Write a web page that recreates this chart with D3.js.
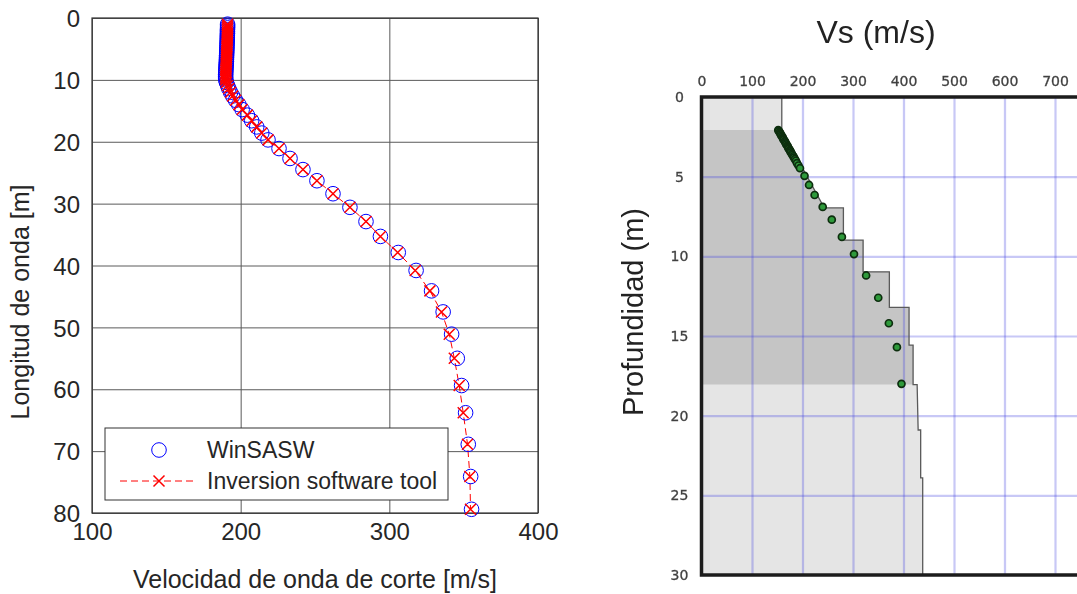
<!DOCTYPE html>
<html><head><meta charset="utf-8">
<script src="https://cdn.jsdelivr.net/npm/d3@7"></script>
<style>body{margin:0;background:#fff}svg{display:block}</style>
</head><body><svg id="c" width="1077" height="594"></svg>
<script>
// ---------- Left chart data ----------
const waveLen = [1.0,1.3,1.6,1.9,2.2,2.5,2.8,3.1,3.4,3.7,4.0,4.3,4.6,4.9,5.2,5.5,5.8,6.1,6.4,6.7,7.0,7.3,7.6,7.9,8.2,8.5,8.8,9.1,9.4,9.7,10.0,
  10.4,10.9,11.4,12.0,12.6,13.3,14.0,14.8,15.7,16.6,17.6,18.6,19.7,21.1,22.7,24.5,26.3,28.4,30.6,32.9,35.3,37.9,40.8,44.1,47.5,51.1,55.0,59.4,63.8,68.9,74.1,79.4];
const vsWinSASW = [191.2,191.2,191.2,191.1,191.1,191.1,191.0,191.0,191.0,190.9,190.9,190.8,190.8,190.7,190.7,190.6,190.6,190.5,190.5,190.4,190.4,190.3,190.2,190.2,190.1,190.0,190.0,189.9,189.9,189.9,190.0,
  190.4,191.2,192.0,193.2,194.6,196.6,198.8,201.0,204.5,207.4,210.8,214.2,218.4,225.8,233.2,241.9,251.3,262.1,273.5,284.3,294.0,306.0,318.0,328.4,336.2,341.9,345.7,348.6,351.3,353.1,354.7,355.3];
const vsInversion = [191.2,191.2,191.2,191.1,191.1,191.1,191.0,191.0,191.0,190.9,190.9,190.8,190.8,190.7,190.7,190.6,190.6,190.5,190.5,190.4,190.4,190.3,190.2,190.2,190.1,190.0,190.0,189.9,189.9,189.9,190.0,
  190.4,191.2,192.0,193.2,194.6,196.6,198.8,201.0,204.5,207.4,210.8,214.2,218.4,225.8,233.2,241.9,251.3,262.1,273.5,284.3,294.0,305.6,317.4,327.3,335.1,340.3,343.7,347.0,349.7,352.6,354.2,354.6];
const xTicksL = [100,200,300,400];
const yTicksL = [0,10,20,30,40,50,60,70,80];
const legendLabels = ["WinSASW","Inversion software tool"];

// ---------- Right chart data ----------
const dotDepth = [2.07,2.14,2.21,2.28,2.35,2.42,2.49,2.56,2.63,2.70,2.77,2.84,2.91,2.98,3.05,3.12,3.19,3.26,3.33,3.40,3.48,3.56,3.64,3.72,3.80,3.90,4.0,4.15,4.3,4.47,
  4.95,5.52,6.15,6.9,7.7,8.78,9.86,11.2,12.6,14.2,15.7,18.0];
const dotVs    = [152,153,155,156,157,158,160,161,162,163,165,166,167,168,170,171,172,173,175,176,177,179,180,182,183,185,187,189,192,195,
  204,213,224,240,258,278,302,326,350,371,387,396];
const profDepth = [0,2.07,6.96,6.96,8.98,8.98,10.97,10.97,13.2,13.2,15.57,15.57,18.05,18.05,20.9,20.9,23.9,23.9,30];
const profVs    = [159,159,243,281,281,320,320,372,372,411,411,419,419,427,429,434,434,438,438];
const bandDepth = [2.07,18.05];
const vsTicksR = [0,100,200,300,400,500,600,700];
const depthTicksR = [0,5,10,15,20,25,30];
const vsGridR = [100,200,300,400,500,600,700,800];
const depthGridR = [5,10,15,20,25];

const svg = d3.select('#c');
svg.append('rect').attr('width',1077).attr('height',594).attr('fill','#fff');
const FONT = '"Liberation Sans", Arial, Helvetica, sans-serif';
const TXT = '#262626';

// ================= LEFT CHART =================
const xL = d3.scaleLinear().domain([100,400]).range([92,538]);
const yL = d3.scaleLinear().domain([0,80]).range([18,513]);
const L = svg.append('g');

L.append('g').attr('transform','translate(0,18)')
  .call(d3.axisTop(xL).tickValues(xTicksL).tickSize(-(513-18)).tickFormat(''))
  .call(g=>{g.select('.domain').remove();g.selectAll('line').attr('stroke','#5a5a5a').attr('stroke-width',1);});
L.append('g').attr('transform','translate(92,0)')
  .call(d3.axisLeft(yL).tickValues(yTicksL).tickSize(-(538-92)).tickFormat(''))
  .call(g=>{g.select('.domain').remove();g.selectAll('line').attr('stroke','#5a5a5a').attr('stroke-width',1);});

L.append('g').attr('transform','translate(0,513)')
  .call(d3.axisBottom(xL).tickValues(xTicksL).tickSize(0).tickPadding(22).tickFormat(d3.format('d')))
  .call(g=>{g.select('.domain').remove();g.selectAll('text').attr('font-family',FONT).attr('font-size',24).attr('fill',TXT).attr('dy','0.2em');});
L.append('g').attr('transform','translate(92,0)')
  .call(d3.axisLeft(yL).tickValues(yTicksL).tickSize(0).tickPadding(12).tickFormat(d3.format('d')))
  .call(g=>{g.select('.domain').remove();g.selectAll('text').attr('font-family',FONT).attr('font-size',24).attr('fill',TXT).attr('dy','0.36em');});

L.append('rect').attr('x',92).attr('y',18).attr('width',538-92).attr('height',513-18)
  .attr('fill','none').attr('stroke','#333').attr('stroke-width',1.2);

const ptsW = waveLen.map((w,i)=>[vsWinSASW[i],w]);
const ptsI = waveLen.map((w,i)=>[vsInversion[i],w]);
L.append('path').datum(ptsI)
  .attr('d',d3.line().x(d=>xL(d[0])).y(d=>yL(d[1])))
  .attr('fill','none').attr('stroke','#ff0000').attr('stroke-width',1).attr('stroke-dasharray','7,4');
L.append('g').selectAll('circle').data(ptsW).join('circle')
  .attr('cx',d=>xL(d[0])).attr('cy',d=>yL(d[1])).attr('r',7.3)
  .attr('fill','none').attr('stroke','#0000ff').attr('stroke-width',1);
const xm = 5.5;
L.append('g').selectAll('path').data(ptsI).join('path')
  .attr('d',d=>{const cx=xL(d[0]),cy=yL(d[1]);return `M${cx-xm},${cy-xm}L${cx+xm},${cy+xm}M${cx-xm},${cy+xm}L${cx+xm},${cy-xm}`;})
  .attr('fill','none').attr('stroke','#ff0000').attr('stroke-width',1.5);

L.append('text').attr('x',315).attr('y',588).attr('text-anchor','middle')
  .attr('font-family',FONT).attr('font-size',25).attr('fill',TXT).text('Velocidad de onda de corte [m/s]');
L.append('text').attr('transform','translate(29,302) rotate(-90)').attr('text-anchor','middle')
  .attr('font-family',FONT).attr('font-size',25).attr('fill',TXT).text('Longitud de onda [m]');

const lg = L.append('g');
lg.append('rect').attr('x',105).attr('y',428).attr('width',343).attr('height',72)
  .attr('fill','#fff').attr('stroke','#333').attr('stroke-width',1);
lg.append('circle').attr('cx',159).attr('cy',450).attr('r',7.3).attr('fill','none').attr('stroke','#0000ff').attr('stroke-width',1);
lg.append('line').attr('x1',120).attr('x2',197).attr('y1',481).attr('y2',481)
  .attr('stroke','#ff0000').attr('stroke-width',1).attr('stroke-dasharray','7,4');
lg.append('path').attr('d',`M${159-xm},${481-xm}L${159+xm},${481+xm}M${159-xm},${481+xm}L${159+xm},${481-xm}`)
  .attr('stroke','#ff0000').attr('stroke-width',1.5);
lg.selectAll('text.lbl').data(legendLabels).join('text').attr('class','lbl')
  .attr('x',207).attr('y',(d,i)=>458+i*31)
  .attr('font-family',FONT).attr('font-size',23).attr('fill',TXT).text(d=>d);

// ================= RIGHT CHART =================
const defs = svg.append('defs');
defs.append('filter').attr('id','blur').append('feGaussianBlur').attr('stdDeviation',0.55);
const xR = d3.scaleLinear().domain([0,800]).range([701.5,1105.5]);
const yR = d3.scaleLinear().domain([0,30]).range([97,575]);
defs.append('clipPath').attr('id','band').append('rect')
  .attr('x',xR(0)).attr('y',yR(bandDepth[0])).attr('width',xR(800)-xR(0)).attr('height',yR(bandDepth[1])-yR(bandDepth[0]));

const R = svg.append('g').attr('filter','url(#blur)');
const prof = profDepth.map((d,i)=>[d,profVs[i]]);
const area = d3.area().y(d=>yR(d[0])).x0(xR(0)).x1(d=>xR(d[1]));
R.append('path').datum(prof).attr('d',area).attr('fill','#e5e5e5');
R.append('path').datum(prof).attr('d',area).attr('fill','#c5c5c5').attr('clip-path','url(#band)');

R.append('g').attr('transform',`translate(0,${yR(0)})`)
  .call(d3.axisTop(xR).tickValues(vsGridR).tickSize(-(yR(30)-yR(0))).tickFormat(''))
  .call(g=>{g.select('.domain').remove();g.selectAll('line').attr('stroke','rgba(70,70,225,0.3)').attr('stroke-width',2.2);});
R.append('g').attr('transform',`translate(${xR(0)},0)`)
  .call(d3.axisLeft(yR).tickValues(depthGridR).tickSize(-(xR(800)-xR(0))).tickFormat(''))
  .call(g=>{g.select('.domain').remove();g.selectAll('line').attr('stroke','rgba(70,70,225,0.3)').attr('stroke-width',2.2);});

R.append('path').datum(prof)
  .attr('d',d3.line().x(d=>xR(d[1])).y(d=>yR(d[0])))
  .attr('fill','none').attr('stroke','#5a5a5a').attr('stroke-width',1.3);

R.append('g').selectAll('circle').data(dotDepth.map((d,i)=>[d,dotVs[i]])).join('circle')
  .attr('cx',d=>xR(d[1])).attr('cy',d=>yR(d[0])).attr('r',3.5)
  .attr('fill','#2f9a3a').attr('stroke','#0d2e10').attr('stroke-width',1.7);

R.append('rect').attr('x',xR(0)).attr('y',yR(0)).attr('width',xR(800)-xR(0)).attr('height',yR(30)-yR(0))
  .attr('fill','none').attr('stroke','#1c1c1c').attr('stroke-width',3.5);

R.append('g').attr('transform',`translate(0,${yR(0)})`)
  .call(d3.axisTop(xR).tickValues(vsTicksR).tickSize(0).tickPadding(11).tickFormat(d3.format('d')))
  .call(g=>{g.select('.domain').remove();g.selectAll('text').attr('font-family','"DejaVu Sans", sans-serif').attr('font-size',14)
    .attr('fill','#3a3a3a').attr('stroke','#555').attr('stroke-width',0.35);});
R.append('g').attr('transform',`translate(${xR(0)},0)`)
  .call(d3.axisLeft(yR).tickValues(depthTicksR).tickSize(0).tickPadding(22).tickFormat(d3.format('d')))
  .call(g=>{g.select('.domain').remove();g.selectAll('text').attr('text-anchor','middle').attr('font-family','"DejaVu Sans", sans-serif').attr('font-size',14)
    .attr('fill','#3a3a3a').attr('stroke','#555').attr('stroke-width',0.35);});

R.append('text').attr('x',876).attr('y',43).attr('text-anchor','middle')
  .attr('font-family',FONT).attr('font-size',32).attr('fill','#222').text('Vs (m/s)');
R.append('text').attr('transform','translate(643,312) rotate(-90)').attr('text-anchor','middle')
  .attr('font-family',FONT).attr('font-size',29).attr('fill','#222').text('Profundidad (m)');
</script>
</body></html>
